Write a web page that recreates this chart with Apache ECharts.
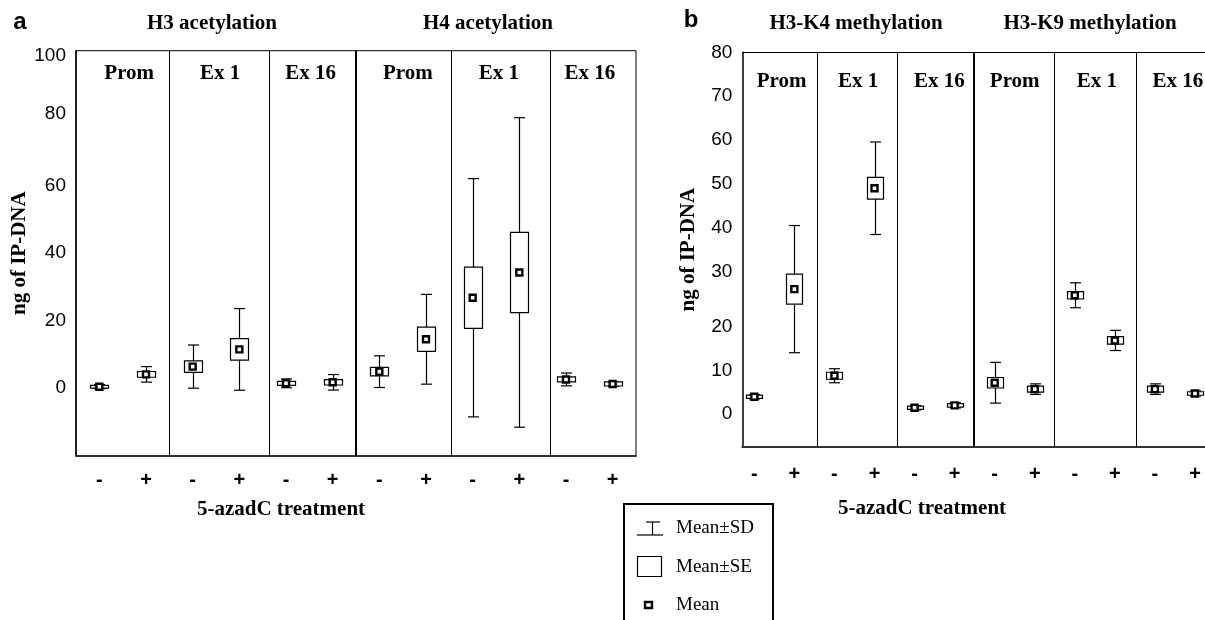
<!DOCTYPE html>
<html><head><meta charset="utf-8">
<script src="https://cdn.jsdelivr.net/npm/echarts@6/dist/echarts.min.js"></script>
<style>html,body{margin:0;padding:0;background:#fff}#c{width:1205px;height:620px}</style>
</head><body><div id="c"></div>
<script>
// ---- data ----
const sections = ['Prom', 'Ex 1', 'Ex 16', 'Prom', 'Ex 1', 'Ex 16'];
const treatments = ['-', '+'];
const acGroups = ['H3 acetylation', 'H4 acetylation'];
const meGroups = ['H3-K4 methylation', 'H3-K9 methylation'];
const acTicks = [0, 20, 40, 60, 80, 100];
const meTicks = [0, 10, 20, 30, 40, 50, 60, 70, 80];
// panel a: H3 Prom -,+, Ex1 -,+, Ex16 -,+, H4 Prom -,+, Ex1 -,+, Ex16 -,+
const acMean = [0.45, 4.1, 6.4, 11.5, 1.45, 1.75, 4.9, 14.5, 26.8, 34.3, 2.6, 1.25];
const acSE   = [0.4, 0.85, 1.7, 3.2, 0.6, 0.8, 1.25, 3.6, 9.1, 11.9, 0.75, 0.6];
const acSD   = [0.6, 2.3, 6.4, 12.1, 1.3, 2.3, 4.7, 13.3, 35.3, 45.85, 1.9, 0.7];
// panel b: H3-K4 Prom -,+, Ex1 -,+, Ex16 -,+, H3-K9 Prom -,+, Ex1 -,+, Ex16 -,+
const meMean = [1.46, 26.0, 6.25, 49.0, -1.05, -0.5, 4.65, 3.2, 24.6, 14.3, 3.2, 2.2];
const meSE   = [0.35, 3.4, 0.8, 2.5, 0.35, 0.4, 1.2, 0.7, 0.85, 0.85, 0.7, 0.4];
const meSD   = [0.5, 14.5, 1.6, 10.55, 0.5, 0.6, 4.65, 1.2, 2.85, 2.3, 1.2, 0.6];

// ---- layout ----
const SERIF = 'Liberation Serif';
const SANS = 'Liberation Sans';
const acDiv = [1.5, 3.64, 5.49, 7.54, 9.66];
const meDiv = [1.57, 3.58, 5.48, 7.49, 9.54];
const acSecX = [0.64, 2.59, 4.53, 6.61, 8.56, 10.51];
const meSecX = [0.68, 2.59, 4.62, 6.5, 8.55, 10.57];

const chart = echarts.init(document.getElementById('c'), null, {renderer: 'canvas'});

function rows(mean, se, sd) { return mean.map((m, i) => [i, m, se[i], sd[i]]); }

function whiskers(capW) {
  return function (p, api) {
    const x = api.value(0), m = api.value(1), sd = api.value(3);
    const t = api.coord([x, m + sd]), b = api.coord([x, m - sd]);
    const cx = Math.round(t[0]) + 0.5;
    const st = {stroke: '#000', lineWidth: 1.2};
    return {type: 'group', children: [
      {type: 'line', shape: {x1: cx, y1: t[1], x2: cx, y2: b[1]}, style: st},
      {type: 'line', shape: {x1: cx - capW / 2, y1: t[1], x2: cx + capW / 2, y2: t[1]}, style: st},
      {type: 'line', shape: {x1: cx - capW / 2, y1: b[1], x2: cx + capW / 2, y2: b[1]}, style: st}
    ]};
  };
}
function boxes(boxW) {
  return function (p, api) {
    const x = api.value(0), m = api.value(1), se = api.value(2);
    const t = api.coord([x, m + se]), b = api.coord([x, m - se]);
    return {type: 'rect',
      shape: {x: Math.round(t[0] - boxW / 2) + 0.5, y: t[1], width: boxW, height: Math.max(b[1] - t[1], 2)},
      style: {fill: '#fff', stroke: '#000', lineWidth: 1.2}};
  };
}
function dividerLines(divs, topY) {
  const data = divs.map((x, k) => ({xAxis: x, lineStyle: {color: '#000', width: k === 2 ? 2 : 1, type: 'solid', opacity: 1}}));
  if (topY !== undefined) data.push({yAxis: topY, lineStyle: {color: '#000', width: 1, type: 'solid', opacity: 1}});
  return {silent: true, symbol: 'none', label: {show: false}, animation: false, data: data};
}
function sectionSeries(gi, xs, yv) {
  return {type: 'scatter', xAxisIndex: gi, yAxisIndex: gi, silent: true, symbolSize: 0, z: 5,
    itemStyle: {opacity: 1},
    data: xs.map((x, k) => ({name: sections[k], value: [x, yv]})),
    label: {show: true, position: 'inside', formatter: '{b}', color: '#000', opacity: 1,
      textBorderWidth: 0, fontFamily: SERIF, fontWeight: 'bold', fontSize: 21}};
}
function panelSeries(gi, mean, se, sd, capW, boxW, divs, secX, secY, topY) {
  const d = rows(mean, se, sd);
  return [
    {name: 'Mean±SD', type: 'custom', xAxisIndex: gi, yAxisIndex: gi, renderItem: whiskers(capW),
      data: d, encode: {x: 0, y: 1}, z: 2, markLine: dividerLines(divs, topY)},
    {name: 'Mean±SE', type: 'custom', xAxisIndex: gi, yAxisIndex: gi, renderItem: boxes(boxW),
      data: d, encode: {x: 0, y: 1}, z: 3},
    {name: 'Mean', type: 'scatter', xAxisIndex: gi, yAxisIndex: gi, symbol: 'rect', symbolSize: 6,
      itemStyle: {color: '#fff', borderColor: '#000', borderWidth: 2.4, opacity: 1},
      data: mean.map((m, i) => [i, m]), z: 4},
    sectionSeries(gi, secX, secY)
  ];
}
const tickLabelBase = {color: '#000', fontFamily: SANS, fontSize: 19};
function xAxisCfg(gi, min, max, n, margin) {
  return {gridIndex: gi, type: 'value', min: min, max: max,
    axisLine: {show: true, onZero: false, lineStyle: {color: '#333', width: 2}},
    axisTick: {show: false}, splitLine: {show: false},
    axisLabel: {customValues: Array.from({length: n}, (_, i) => i),
      formatter: v => treatments[Math.round(v) % 2], margin: margin,
      color: '#000', fontFamily: SANS, fontSize: 20, fontWeight: 'bold'}};
}
function yAxisCfg(gi, min, max, ticks, fmt, rich) {
  return {gridIndex: gi, type: 'value', min: min, max: max,
    axisLine: {show: true, onZero: false, lineStyle: {color: '#000', width: 1.5}},
    axisTick: {show: false}, splitLine: {show: false},
    axisLabel: Object.assign({customValues: ticks, margin: 10, formatter: fmt, rich: rich}, tickLabelBase),
    name: 'ng of IP-DNA', nameLocation: 'middle', nameRotate: 90, nameGap: 43,
    nameTextStyle: {color: '#000', fontFamily: SERIF, fontWeight: 'bold', fontSize: 21}};
}
const richA = {
  top: Object.assign({padding: [10, 0, 0, 0]}, tickLabelBase),
  up: Object.assign({padding: [0, 0, 8, 0]}, tickLabelBase)
};
const fmtA = v => v === 100 ? '{top|100}' : (v === 80 ? '{up|80}' : String(v));
const richB = {lo: Object.assign({padding: [22, 0, 0, 0]}, tickLabelBase)};
const fmtB = v => v <= 20 ? '{lo|' + v + '}' : String(v);

function txt(text, x, y, size, fam, weight, align) {
  return {type: 'text', x: x, y: y, silent: true,
    style: {text: text, fill: '#000', font: (weight || 'normal') + ' ' + size + 'px "' + fam + '"',
      textAlign: align || 'center', textVerticalAlign: 'middle'}};
}

const graphic = [
  txt('a', 20, 22, 24, SANS, 'bold'),
  txt('b', 691, 20, 24, SANS, 'bold'),
  txt(acGroups[0], 212, 24, 21, SERIF, 'bold'),
  txt(acGroups[1], 488, 24, 21, SERIF, 'bold'),
  txt(meGroups[0], 856, 24, 21, SERIF, 'bold'),
  txt(meGroups[1], 1090, 24, 21, SERIF, 'bold'),
  txt('5-azadC treatment', 281, 510, 21, SERIF, 'bold'),
  txt('5-azadC treatment', 922, 509, 21, SERIF, 'bold'),
  // legend box
  {type: 'rect', silent: true, shape: {x: 624, y: 504, width: 149, height: 140},
    style: {fill: '#fff', stroke: '#000', lineWidth: 2}},
  {type: 'line', silent: true, shape: {x1: 646, y1: 522, x2: 660, y2: 522}, style: {stroke: '#000', lineWidth: 1.2}},
  {type: 'line', silent: true, shape: {x1: 652.5, y1: 522, x2: 652.5, y2: 535}, style: {stroke: '#000', lineWidth: 1.2}},
  {type: 'line', silent: true, shape: {x1: 637, y1: 535, x2: 663, y2: 535}, style: {stroke: '#000', lineWidth: 1.2}},
  {type: 'rect', silent: true, shape: {x: 637.5, y: 556.5, width: 24, height: 20}, style: {fill: '#fff', stroke: '#000', lineWidth: 1.2}},
  {type: 'rect', silent: true, shape: {x: 645, y: 602, width: 7, height: 6}, style: {fill: '#fff', stroke: '#000', lineWidth: 2.4}},
  txt('Mean±SD', 676, 528, 19, SERIF, 'normal', 'left'),
  txt('Mean±SE', 676, 567, 19, SERIF, 'normal', 'left'),
  txt('Mean', 676, 605, 19, SERIF, 'normal', 'left')
];

chart.setOption({
  animation: false,
  backgroundColor: '#fff',
  grid: [
    {left: 76, top: 50.7, width: 560, height: 405, show: true, borderColor: '#000', borderWidth: 1, containLabel: false},
    {left: 742.3, top: 52.3, right: 0, height: 394.7, show: false, containLabel: false}
  ],
  xAxis: [xAxisCfg(0, -0.5, 11.5, acMean.length, 15), xAxisCfg(1, -0.3, 11.25, meMean.length, 17)],
  yAxis: [yAxisCfg(0, -20, 100, acTicks, fmtA, richA), yAxisCfg(1, -10, 80, meTicks, fmtB, richB)],
  series: [].concat(
    panelSeries(0, acMean, acSE, acSD, 11, 18, acDiv, acSecX, 93.1),
    panelSeries(1, meMean, meSE, meSD, 11, 16, meDiv, meSecX, 73.4, 80)
  ),
  graphic: graphic
});
</script></body></html>
